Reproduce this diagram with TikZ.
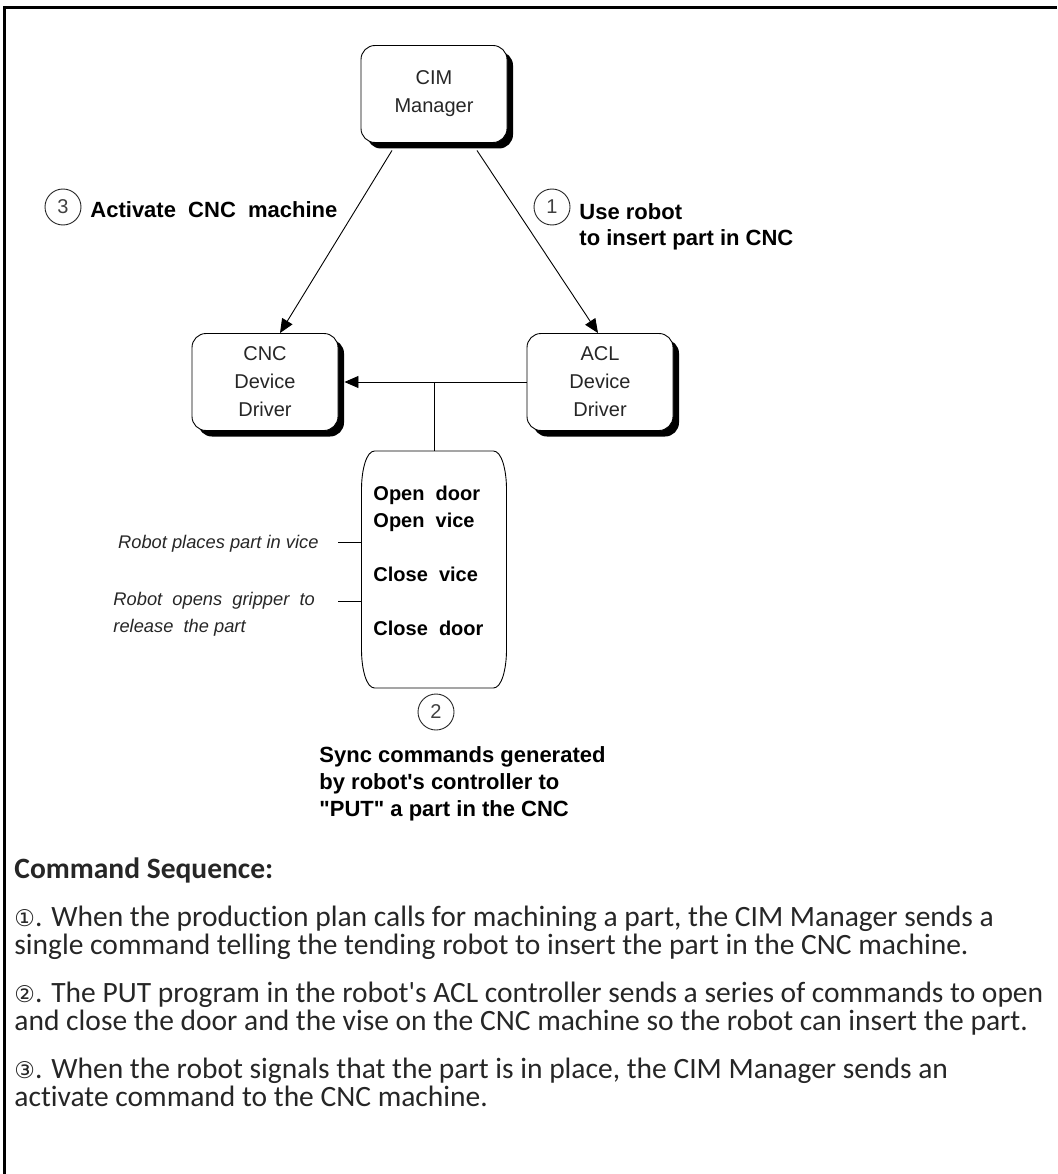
\documentclass[tikz,border=0pt]{standalone}
\usepackage{fontspec}
\setmainfont{Liberation Sans}
\newfontfamily\diagfont{Liberation Sans}
\newfontfamily\bodyfont{Carlito}[Ligatures={NoCommon}]
\newfontfamily\symfont{DejaVu Sans}
\usepackage{tikz}
\usetikzlibrary{shapes,arrows.meta,positioning,shadows,calc}

\begin{document}
\begin{tikzpicture}[
    x=1pt, y=-1pt,
    line width=0.9pt,
    driver/.style={rectangle, rounded corners=14pt, draw=black, fill=white, minimum width=146pt, minimum height=97pt, align=center, text=black!85, font=\diagfont\fontsize{20}{28}\selectfont, drop shadow={shadow xshift=6pt, shadow yshift=-6pt, fill=black, opacity=1}},
    num/.style={circle, draw=black!85, minimum size=36pt, inner sep=0pt, text=black!75, font=\diagfont\fontsize{20}{24}\selectfont},
    lbl/.style={align=left, inner sep=0pt, font=\diagfont\bfseries\fontsize{22}{26}\selectfont},
    cmd/.style={align=left, inner sep=0pt, font=\diagfont\bfseries\fontsize{20}{27}\selectfont},
    note/.style={align=left, inner sep=0pt, text=black!85, font=\diagfont\itshape\fontsize{18.3}{27}\selectfont},
    para/.style={align=left, inner sep=0pt, text=black!85, font=\bodyfont\fontsize{29.5}{27.5}\selectfont},
    arrow/.style={-{Triangle[length=14pt,width=12pt]}}
]
\useasboundingbox (0,0) rectangle (1057,1174);

% frame
\draw[line width=3pt] (4.5,1174) -- (4.5,7.5) -- (1057,7.5);

% drivers
\node[driver] (cim) at (434,94) {CIM\\Manager};
\node[driver] (cnc) at (265,382) {CNC\\Device\\Driver};
\node[driver] (acl) at (600,382) {ACL\\Device\\Driver};

% sync program
\node[inner sep=0pt, minimum width=145pt, minimum height=237pt] (sync) at (434,569.5) {};
\begin{scope}[shift={(sync.center)}]
\draw (-59.5,-118.5) -- (59.5,-118.5) .. controls (67.5,-118.5) and (72.5,-100) .. (72.5,-80)
  -- (72.5,80) .. controls (72.5,100) and (67.5,118.5) .. (59.5,118.5)
  -- (-59.5,118.5) .. controls (-67.5,118.5) and (-72.5,100) .. (-72.5,80)
  -- (-72.5,-80) .. controls (-72.5,-100) and (-67.5,-118.5) .. cycle;
\end{scope}
\node[cmd, anchor=north west] (synccmds) at (373,486) {Open~ door\\Open~ vice\\ \\Close~ vice\\ \\Close~ door};

% steps
\node[num] (one) at (552,207) {1};
\node[lbl, anchor=north west] (useRobot) at (579,203) {Use robot\\ to insert part in CNC};
\node[num] (three) at (63,207) {3};
\node[lbl, anchor=west] (activate) at (90,210) {Activate~ CNC~ machine};
\node[num] (two) at (436,712) {2};
\node[lbl, anchor=north west, font=\diagfont\bfseries\fontsize{22}{27}\selectfont] (syncLbl) at (319,746) {Sync commands generated\\by robot's controller to\\"PUT" a part in the CNC};

% robot notes
\node[note, anchor=base east] (placeLbl) at (319,548) {Robot places part in vice};
\node[note, anchor=north west] (gripLbl) at (113,592) {Robot~ opens~ gripper~ to\\release~ the part};
\coordinate (placeTick) at (338,542);
\coordinate (gripTick) at (338,601);

% connectors
\draw[arrow] ([xshift=-42pt,yshift=-7.5pt]cim.south) -- ([xshift=15pt]cnc.north);
\draw[arrow] ([xshift=43pt,yshift=-7.5pt]cim.south) -- ([xshift=-2pt]acl.north);
\draw[arrow] (acl.west) -- ([xshift=6pt]cnc.east);
\draw (sync.north) -- (sync.north |- acl.west);
\draw (placeTick) -- (sync.west |- placeTick);
\draw (gripTick) -- (sync.west |- gripTick);

% command sequence
\node[para, font=\bodyfont\bfseries\fontsize{29.5}{27.5}\selectfont, anchor=base west] (seqHead) at (14,878) {Command Sequence:};
\node[para, anchor=north west] (stepOne) at (14,906) {{\symfont\fontsize{23}{27}\selectfont ①}. When the production plan calls for machining a part, the CIM Manager sends a\\single command telling the tending robot to insert the part in the CNC machine.};
\node[para, anchor=north west] (stepTwo) at (14,982) {{\symfont\fontsize{23}{27}\selectfont ②}. The PUT program in the robot's ACL controller sends a series of commands to open\\and close the door and the vise on the CNC machine so the robot can insert the part.};
\node[para, anchor=north west] (stepThree) at (14,1058) {{\symfont\fontsize{23}{27}\selectfont ③}. When the robot signals that the part is in place, the CIM Manager sends an\\activate command to the CNC machine.};
\end{tikzpicture}
\end{document}
